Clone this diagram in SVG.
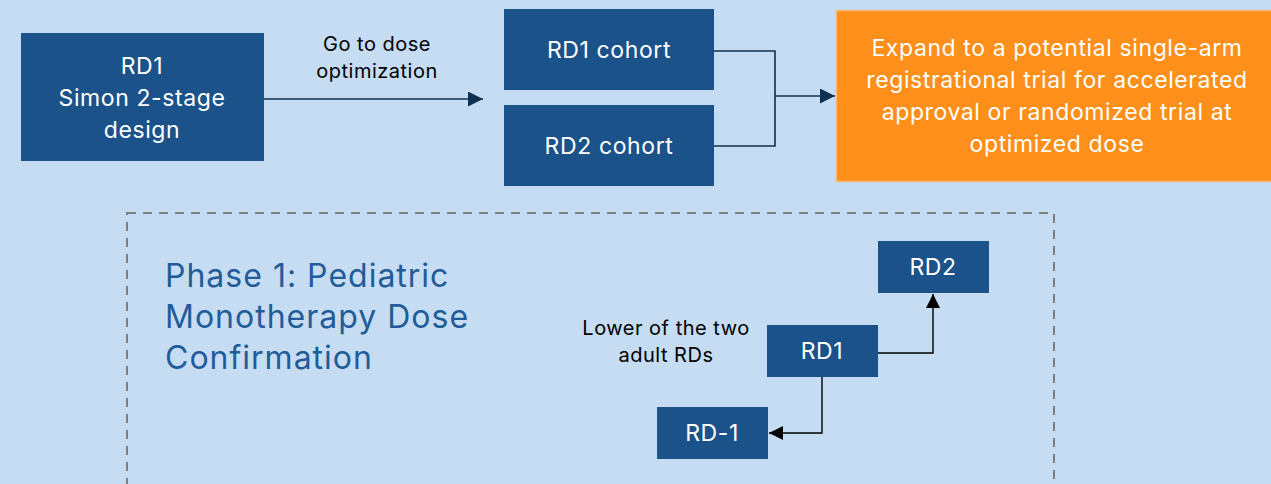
<svg xmlns="http://www.w3.org/2000/svg" width="1271" height="484" viewBox="0 0 1271 484">
<style>
.box{fill:#1B5289}
.wt{fill:#fff;font-family:Inter,"Open Sans",sans-serif;font-size:23px;letter-spacing:0.6px;text-anchor:middle}
.bt{fill:#000;font-family:Inter,"Open Sans",sans-serif;font-size:20px;letter-spacing:0.5px;text-anchor:middle}
.ph{fill:#1F5C99;font-family:Inter,"Open Sans",sans-serif;font-size:32px;letter-spacing:1px}
.nav{stroke:#10304F;stroke-width:1.6;fill:none}
.blk{stroke:#000;stroke-width:1.4;fill:none}
</style>
<defs>
<marker id="an" viewBox="0 0 10 10" refX="10" refY="5" markerWidth="15" markerHeight="15" markerUnits="userSpaceOnUse" orient="auto"><path d="M0,0L10,5L0,10z" fill="#10304F"/></marker>
<marker id="ab" viewBox="0 0 10 10" refX="10" refY="5" markerWidth="14" markerHeight="14" markerUnits="userSpaceOnUse" orient="auto"><path d="M0,0L10,5L0,10z" fill="#000"/></marker>
</defs>
<rect width="1271" height="484" fill="#C5DCF2"/>
<rect x="127" y="213" width="927" height="290" fill="none" stroke="#7F7F7F" stroke-width="2" stroke-dasharray="9,7"/>
<g id="connectors">
<path class="nav" d="M264,99H483" marker-end="url(#an)"/>
<path class="nav" d="M714,51H775V146H714M775,96H835" marker-end="url(#an)"/>
<path class="blk" d="M878,353H933V294" marker-end="url(#ab)"/>
<path class="blk" d="M822,377V433H769" marker-end="url(#ab)"/>
</g>
<g id="lbl-go"><text class="bt" x="377" y="51">Go to dose</text><text class="bt" x="377" y="78">optimization</text></g>
<g id="n-simon"><rect class="box" x="21" y="33" width="243" height="128"/>
<text class="wt" x="142" y="74">RD1</text><text class="wt" x="142" y="106">Simon 2-stage</text><text class="wt" x="142" y="138">design</text></g>
<g id="n-rd1c"><rect class="box" x="504" y="9" width="210" height="81"/><text class="wt" x="609" y="58">RD1 cohort</text></g>
<g id="n-rd2c"><rect class="box" x="504" y="105" width="210" height="81"/><text class="wt" x="609" y="154">RD2 cohort</text></g>
<g id="n-expand"><rect x="836.5" y="10.5" width="440" height="171" fill="#FD8F1A" stroke="#F8B67A" stroke-width="1.5"/>
<text class="wt" x="1057" y="56">Expand to a potential single-arm</text>
<text class="wt" x="1057" y="88">registrational trial for accelerated</text>
<text class="wt" x="1057" y="120">approval or randomized trial at</text>
<text class="wt" x="1057" y="152">optimized dose</text></g>
<g id="phase"><text class="ph" x="165" y="287">Phase 1: Pediatric</text>
<text class="ph" x="165" y="328">Monotherapy Dose</text>
<text class="ph" x="165" y="369">Confirmation</text></g>
<g id="lbl-lower"><text class="bt" x="666" y="335">Lower of the two</text><text class="bt" x="666" y="362">adult RDs</text></g>
<g id="n-rd2"><rect class="box" x="878" y="241" width="111" height="52"/><text class="wt" x="933" y="275">RD2</text></g>
<g id="n-rd1"><rect class="box" x="767" y="325" width="111" height="52"/><text class="wt" x="822" y="359">RD1</text></g>
<g id="n-rdm1"><rect class="box" x="657" y="407" width="111" height="52"/><text class="wt" x="712" y="441">RD-1</text></g>
</svg>
